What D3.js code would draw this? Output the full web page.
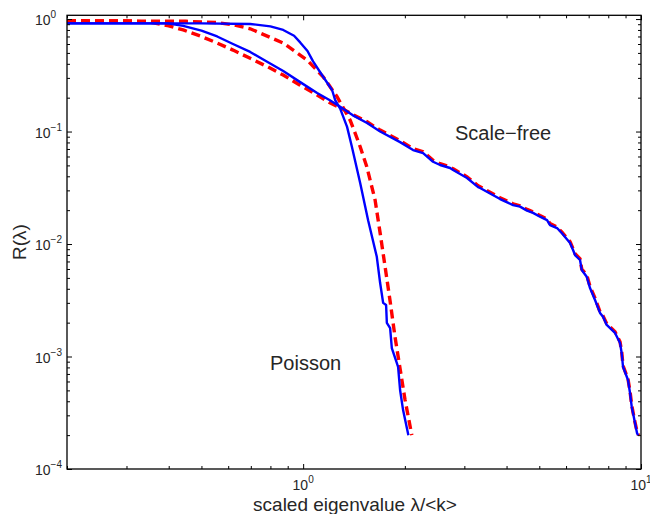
<!DOCTYPE html>
<html><head><meta charset="utf-8">
<script src="https://cdn.jsdelivr.net/npm/d3@7"></script>
<style>
body{margin:0;background:#fff}
svg{display:block}
text{font-family:"Liberation Sans",Arial,Helvetica,sans-serif;fill:#262626}
</style>
</head><body>
<svg id="c" width="650" height="514"></svg>
<script>
// ---- data ----
const poissonSimX = [0.2, 0.5, 0.697, 0.80, 0.873, 0.94, 0.98, 1.03, 1.07, 1.146, 1.218, 1.244, 1.287, 1.349, 1.394, 1.475, 1.557, 1.652, 1.69, 1.725, 1.76, 1.769, 1.809, 1.83, 1.894, 1.91, 1.936, 1.976, 2.049];
const poissonSimY = [0.916, 0.916, 0.905, 0.86, 0.80, 0.71, 0.62, 0.52, 0.42, 0.307, 0.234, 0.1905, 0.16, 0.11, 0.0732, 0.0349, 0.0163, 0.0077, 0.0045, 0.0030, 0.00287, 0.00199, 0.00179, 0.00119, 0.000875, 0.000807, 0.000504, 0.000334, 0.0002];

const poissonThX = [0.2, 0.45, 0.5566, 0.62, 0.697, 0.873, 0.95, 1.0276, 1.146, 1.26, 1.377, 1.425, 1.475, 1.543, 1.633, 1.69, 1.748, 1.809, 1.87, 1.936, 2.003, 2.097];
const poissonThY = [0.966, 0.955, 0.93, 0.89, 0.82, 0.612, 0.51, 0.432, 0.307, 0.204, 0.1265, 0.097, 0.0732, 0.0487, 0.0246, 0.0125, 0.00628, 0.0031, 0.0015, 0.00078, 0.00041, 0.0002];

const scaleFreeSimX = [0.2, 0.396, 0.4416, 0.5, 0.5566, 0.62, 0.697, 0.78, 0.873, 0.98, 1.1, 1.2, 1.287, 1.4, 1.546, 1.69, 1.936, 2.115, 2.265, 2.424, 2.543, 2.722, 2.779, 3.056, 3.295, 3.34, 3.827, 4.181, 4.385, 4.599, 4.791, 5.025, 5.271, 5.38, 5.643, 5.826, 6.166, 6.293, 6.379, 6.6, 6.677, 6.908, 7.065, 7.31, 7.563, 7.719, 7.916, 8.378, 8.668, 8.768, 8.846, 9.152, 9.279, 9.387, 9.47, 9.6, 9.732, 9.8];
const scaleFreeSimY = [0.916, 0.916, 0.87, 0.79, 0.70, 0.60, 0.51, 0.42, 0.345, 0.275, 0.22, 0.19, 0.166, 0.14, 0.119, 0.100, 0.0805, 0.0685, 0.0644, 0.0539, 0.0504, 0.0474, 0.0455, 0.0386, 0.0321, 0.0315, 0.0251, 0.0222, 0.0215, 0.0198, 0.0189, 0.0175, 0.0163, 0.01475, 0.01387, 0.01253, 0.01021, 0.00885, 0.00798, 0.00721, 0.00587, 0.00512, 0.00406, 0.00318, 0.00244, 0.00226, 0.00191, 0.00162, 0.00132, 0.00107, 0.000811, 0.000618, 0.000474, 0.000358, 0.000315, 0.000256, 0.000209, 0.0002];

const scaleFreeThX = [0.2, 0.30, 0.3525, 0.40, 0.4416, 0.5, 0.5566, 0.62, 0.697, 0.78, 0.873, 0.98, 1.1, 1.2, 1.313, 1.4, 1.546, 1.69, 1.936, 2.115, 2.265, 2.424, 2.543, 2.722, 2.779, 3.056, 3.295, 3.34, 3.827, 4.181, 4.385, 4.599, 4.791, 5.025, 5.271, 5.38, 5.643, 5.826, 6.166, 6.293, 6.379, 6.6, 6.677, 6.908, 7.065, 7.31, 7.563, 7.719, 7.916, 8.378, 8.668, 8.768, 8.846, 9.152, 9.279, 9.387, 9.47, 9.6, 9.732, 9.85];
const scaleFreeThY = [0.966, 0.96, 0.94, 0.87, 0.80, 0.70, 0.612, 0.53, 0.448, 0.38, 0.318, 0.258, 0.211, 0.18, 0.158, 0.142, 0.122, 0.103, 0.083, 0.0705, 0.066, 0.0555, 0.0518, 0.0486, 0.0466, 0.0396, 0.033, 0.0323, 0.0258, 0.0228, 0.0219, 0.0203, 0.0193, 0.0179, 0.0167, 0.0152, 0.0142, 0.0128, 0.0105, 0.0091, 0.0082, 0.0074, 0.006, 0.0053, 0.0042, 0.0033, 0.0025, 0.0023, 0.00196, 0.00166, 0.00135, 0.0011, 0.00083, 0.00063, 0.00049, 0.00037, 0.00032, 0.00026, 0.000215, 0.0002];

const xMajorTicks = [1, 10];
const xTickExponents = ["0", "1"];
const yMajorTicks = [1e-4, 1e-3, 1e-2, 1e-1, 1];
const yTickExponents = ["\u22124", "\u22123", "\u22122", "\u22121", "0"];
const xLabel = "scaled eigenvalue \u03bb/<k>";
const yLabel = "R(\u03bb)";
const annotations = [{text: "Scale\u2212free", x: 455, y: 140}, {text: "Poisson", x: 270, y: 370}];

// ---- layout ----
const L = 67, R = 641, T = 15.3, B = 469;
const svg = d3.select("#c");
const x = d3.scaleLog().domain([0.2, 10]).range([L, R]);
const y = d3.scaleLog().domain([1e-4, 1.08]).range([B, T]);

const xMinor = [];
for (let d = 0.1; d < 10; d *= 10) for (let k = 2; k <= 9; k++) { const v = +(k*d).toPrecision(3); if (v >= 0.2 && v <= 10) xMinor.push(v); }
const yMinor = [];
for (let d = 1e-4; d < 1; d *= 10) for (let k = 2; k <= 9; k++) yMinor.push(+(k*d).toPrecision(3));

svg.append("clipPath").attr("id","clip").append("rect")
  .attr("x", L).attr("y", T).attr("width", R-L).attr("height", B-T);

// ---- curves ----
const line = d3.line().x(d => x(d[0])).y(d => y(d[1]));
function series(xs, ys){ return xs.map((v,i)=>[v, ys[i]]); }
const g = svg.append("g").attr("clip-path","url(#clip)");
[[poissonThX, poissonThY],[scaleFreeThX, scaleFreeThY]].forEach(s => {
  g.append("path").datum(series(s[0], s[1])).attr("d", line)
   .attr("fill","none").attr("stroke","#ff0000").attr("stroke-width",3.4)
   .attr("stroke-dasharray","9,5");
});
[[poissonSimX, poissonSimY],[scaleFreeSimX, scaleFreeSimY]].forEach(s => {
  g.append("path").datum(series(s[0], s[1])).attr("d", line)
   .attr("fill","none").attr("stroke","#0000ff").attr("stroke-width",2.4)
   .attr("stroke-linejoin","round");
});

// ---- axes (ticks inward on all four sides) ----
function drawAxis(gen, tr){
  const a = svg.append("g").attr("transform", tr).call(gen);
  a.selectAll("text").remove();
  a.select(".domain").remove();
  a.selectAll("line").attr("stroke","#000").attr("stroke-width",1);
  return a;
}
const maj = 5, mnr = 3;
drawAxis(d3.axisBottom(x).tickValues(xMajorTicks).tickSizeInner(-maj).tickSizeOuter(0), `translate(0,${B})`);
drawAxis(d3.axisBottom(x).tickValues(xMinor).tickSizeInner(-mnr).tickSizeOuter(0), `translate(0,${B})`);
drawAxis(d3.axisTop(x).tickValues(xMajorTicks).tickSizeInner(-maj).tickSizeOuter(0), `translate(0,${T})`);
drawAxis(d3.axisTop(x).tickValues(xMinor).tickSizeInner(-mnr).tickSizeOuter(0), `translate(0,${T})`);
drawAxis(d3.axisLeft(y).tickValues(yMajorTicks).tickSizeInner(-maj).tickSizeOuter(0), `translate(${L},0)`);
drawAxis(d3.axisLeft(y).tickValues(yMinor).tickSizeInner(-mnr).tickSizeOuter(0), `translate(${L},0)`);
drawAxis(d3.axisRight(y).tickValues(yMajorTicks).tickSizeInner(-maj).tickSizeOuter(0), `translate(${R},0)`);
drawAxis(d3.axisRight(y).tickValues(yMinor).tickSizeInner(-mnr).tickSizeOuter(0), `translate(${R},0)`);

svg.append("rect").attr("x",L).attr("y",T).attr("width",R-L).attr("height",B-T)
  .attr("fill","none").attr("stroke","#000").attr("stroke-width",1.3);

// ---- tick labels ----
xMajorTicks.forEach((v,i) => {
  const t = svg.append("text").attr("x", x(v)).attr("y", B+21).attr("text-anchor","middle").attr("font-size",14);
  t.append("tspan").text("10");
  t.append("tspan").attr("dy",-7).attr("font-size",10).text(xTickExponents[i]);
});
yMajorTicks.forEach((v,i) => {
  const t = svg.append("text").attr("x", 35).attr("y", y(v)+6).attr("text-anchor","start").attr("font-size",14);
  t.append("tspan").text("10");
  t.append("tspan").attr("dy",-7).attr("font-size",10).text(yTickExponents[i]);
});

// ---- axis labels ----
svg.append("text").attr("x", 355).attr("y", 510.5).attr("text-anchor","middle").attr("font-size",19).text(xLabel);
svg.append("text").attr("transform","translate(26,242) rotate(-90)").attr("text-anchor","middle").attr("font-size",19).text(yLabel);

annotations.forEach(a => {
  svg.append("text").attr("x", a.x).attr("y", a.y).attr("font-size",20).text(a.text);
});
</script>
</body></html>
